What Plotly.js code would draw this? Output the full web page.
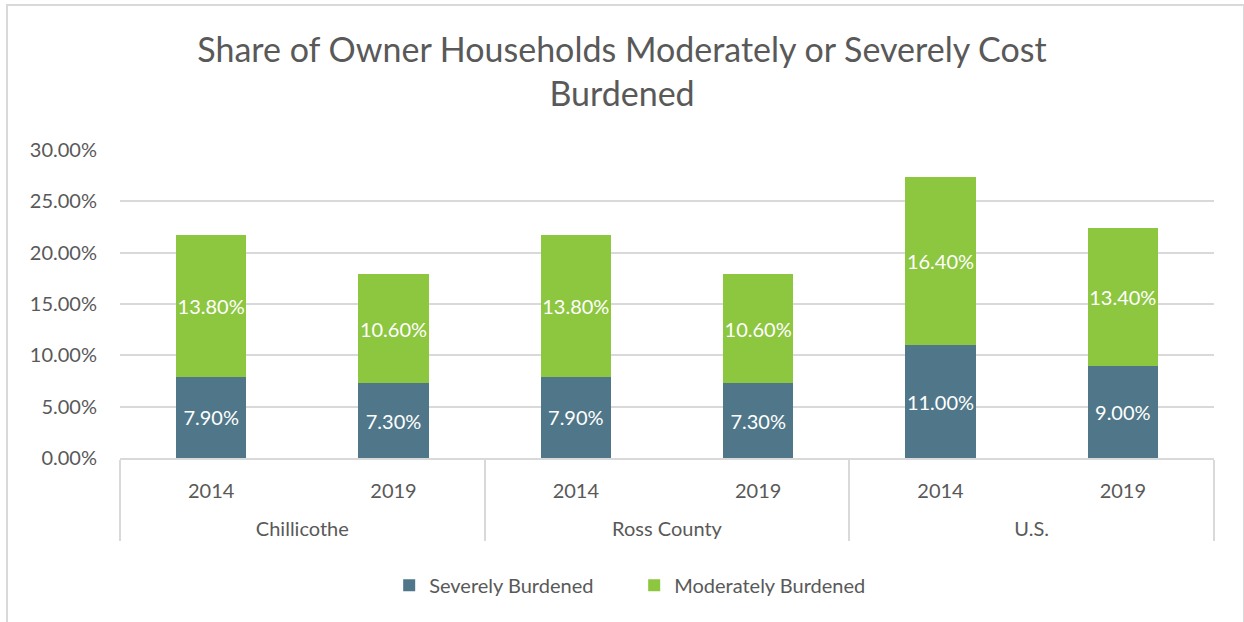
<!DOCTYPE html>
<html>
<head>
<meta charset="utf-8">
<script src="https://cdn.plot.ly/plotly-3.0.1.min.js"></script>
<style>
html,body{margin:0;padding:0;background:#fff;overflow:hidden;}
#chart{width:1244px;height:622px;}
#frame{position:absolute;left:6px;top:4px;width:1235px;height:640px;border:2px solid #d9d9d9;pointer-events:none;}
</style>
</head>
<body>
<div id="chart"></div>
<div id="frame"></div>
<script>
const groups = ["Chillicothe","Chillicothe","Ross County","Ross County","U.S.","U.S."];
const years = ["2014","2019","2014","2019","2014","2019"];
const severe = [7.9, 7.3, 7.9, 7.3, 11.0, 9.0];
const moderate = [13.8, 10.6, 13.8, 10.6, 16.4, 13.4];
const seriesNames = ["Severely Burdened","Moderately Burdened"];
const colors = ["#507789","#8dc63f"];

const font = "Lato, 'Open Sans', sans-serif";
// blank line before group name spaces the two label rows like the original
const groupLabels = groups.map(g => '<br>' + g);
const common = {
  type: 'bar',
  x: [groupLabels, years],
  width: 0.385,
  textposition: 'inside',
  insidetextanchor: 'middle',
  textangle: 0,
  texttemplate: '%{y:.2f}%',
  textfont: {family: font, size: 20, color: '#ffffff'},
  constraintext: 'none',
  hoverinfo: 'skip'
};
const data = [
  Object.assign({}, common, {y: severe, name: seriesNames[0], marker: {color: colors[0]}}),
  Object.assign({}, common, {y: moderate, name: seriesNames[1], marker: {color: colors[1]}})
];
const layout = {
  width: 1244, height: 622,
  margin: {l: 120, r: 30, t: 150, b: 164},
  barmode: 'stack',
  paper_bgcolor: '#fff', plot_bgcolor: '#fff',
  font: {family: font, color: '#595959', size: 18},
  title: {
    text: 'Share of Owner Households Moderately or Severely Cost<br>Burdened',
    font: {family: font, size: 34, color: '#595959'},
    x: 0.5, xanchor: 'center', y: 0.9, yanchor: 'top'
  },
  xaxis: {
    type: 'multicategory',
    showline: true, linecolor: '#d9d9d9', linewidth: 2,
    showdividers: true, dividercolor: '#d9d9d9', dividerwidth: 2,
    tickfont: {family: font, size: 20, color: '#595959'},
    ticks: '', ticklabelstandoff: 14, fixedrange: true
  },
  yaxis: {
    range: [0, 30], dtick: 5, tickformat: '.2f', ticksuffix: '%',
    showgrid: true, gridcolor: '#d9d9d9', gridwidth: 2,
    zeroline: false, showline: false,
    tickfont: {family: font, size: 20, color: '#595959'},
    ticklabelstandoff: 22, fixedrange: true
  },
  legend: {
    orientation: 'h', traceorder: 'normal',
    x: 0.47, xanchor: 'center', y: -0.35, yanchor: 'top',
    font: {family: font, size: 20, color: '#595959'},
    itemwidth: 30, entrywidth: 200
  },
  showlegend: true
};
Plotly.newPlot('chart', data, layout, {displayModeBar: false, staticPlot: true});
</script>
</body>
</html>
